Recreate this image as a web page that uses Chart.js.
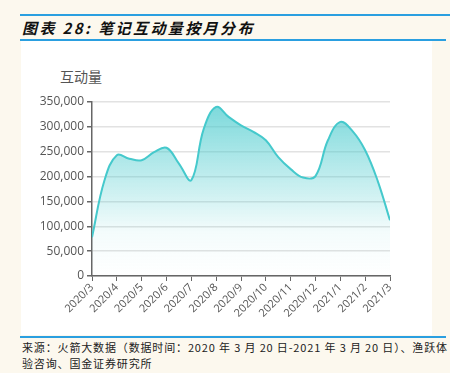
<!DOCTYPE html>
<html>
<head>
<meta charset="utf-8">
<script src="https://cdn.jsdelivr.net/npm/chart.js@4"></script>
<style>
  body { margin: 0; background: #fcf8ee; width: 450px; height: 373px; position: relative; overflow: hidden; font-family: "Noto Sans CJK SC", sans-serif; }
  .line { position: absolute; background: #2a9fe0; height: 2px; }
  #title { position: absolute; left: 22px; top: 17px; font-size: 15px; font-weight: bold; font-style: italic; color: #111; letter-spacing: 2.4px; line-height: 22px; }
  #box { position: absolute; left: 21px; top: 41px; width: 411px; height: 294px; background: #fff; }
  #ytitle { position: absolute; left: 60px; top: 66px; font-size: 14px; color: #555; font-family: "Noto Sans CJK SC", sans-serif; }
  #note { position: absolute; left: 22px; top: 339px; font-size: 11px; color: #222; line-height: 16px; width: 430px; letter-spacing: 0.85px; white-space: nowrap; }
  canvas { position: absolute; left: 21px; top: 41px; }
</style>
</head>
<body>
<div class="line" style="left:20px; top:14px; width:430px;"></div>
<div id="title">图表 28: 笔记互动量按月分布</div>
<div class="line" style="left:20px; top:39px; width:426px;"></div>
<div id="box"></div>
<div id="ytitle">互动量</div>
<canvas id="c" width="411" height="294"></canvas>
<div class="line" style="left:20px; top:336px; width:426px;"></div>
<div id="note">来源：火箭大数据（数据时间：2020 年 3 月 20 日-2021 年 3 月 20 日）、渔跃体<br>验咨询、国金证券研究所</div>
<script>
let monthLabels = ['2020/3', '2020/4', '2020/5', '2020/6', '2020/7', '2020/8', '2020/9',
  '2020/10', '2020/11', '2020/12', '2021/1', '2021/2', '2021/3'];

// half-month positions (0 = 2020/3, 12 = 2021/3)
let positions = [0, 0.5, 1, 1.5, 2, 2.5, 3, 3.5, 4, 4.5, 5, 5.5, 6, 6.5, 7, 7.5, 8, 8.5, 9, 9.5, 10, 10.5, 11, 11.5, 12];
let values = [78000, 192000, 243000, 236000, 233000, 249000, 258000, 226000, 193000, 296000, 340000, 320000,
  303000, 290000, 273000, 239000, 215000, 198000, 201000, 273000, 310000, 291000, 253000, 192000, 112000];

let points = positions.map(function (p, i) { return { x: p, y: values[i] }; });

let ctx = document.getElementById('c').getContext('2d');

new Chart(ctx, {
  type: 'line',
  data: {
    datasets: [{
      data: points,
      borderColor: '#45c9cc',
      borderWidth: 2,
      pointRadius: 0,
      tension: 0.4,
      fill: 'origin',
      backgroundColor: function (context) {
        let area = context.chart.chartArea;
        if (!area) return 'rgba(69,201,204,0.4)';
        let g = context.chart.ctx.createLinearGradient(0, area.top, 0, area.bottom);
        g.addColorStop(0, 'rgba(69,201,204,0.72)');
        g.addColorStop(0.75, 'rgba(69,201,204,0.06)');
        g.addColorStop(1, 'rgba(69,201,204,0.0)');
        return g;
      }
    }]
  },
  options: {
    responsive: false,
    animation: false,
    layout: { padding: { top: 61, right: 42, left: 0, bottom: 0 } },
    plugins: { legend: { display: false }, tooltip: { enabled: false } },
    scales: {
      x: {
        type: 'linear',
        min: 0,
        max: 12,
        afterFit: function (s) { s.height = 59; },
        border: { color: '#666', width: 1.5 },
        grid: { drawOnChartArea: false, tickLength: 5, tickColor: '#666' },
        ticks: {
          stepSize: 1,
          autoSkip: false,
          minRotation: 45,
          maxRotation: 45,
          padding: 0,
          color: '#555',
          font: { family: 'Open Sans', size: 11 },
          callback: function (v) { return monthLabels[v]; }
        }
      },
      y: {
        min: 0,
        max: 350000,
        afterFit: function (s) { s.width = 71; },
        border: { color: '#666', width: 1.5 },
        grid: { color: '#e2e2e2', lineWidth: 1.5, tickLength: 5, tickColor: '#666' },
        ticks: {
          stepSize: 50000,
          padding: 3,
          color: '#555',
          font: { family: 'Open Sans', size: 12 },
          callback: function (v) { return v.toLocaleString('en-US'); }
        }
      }
    }
  }
});
</script>
</body>
</html>
